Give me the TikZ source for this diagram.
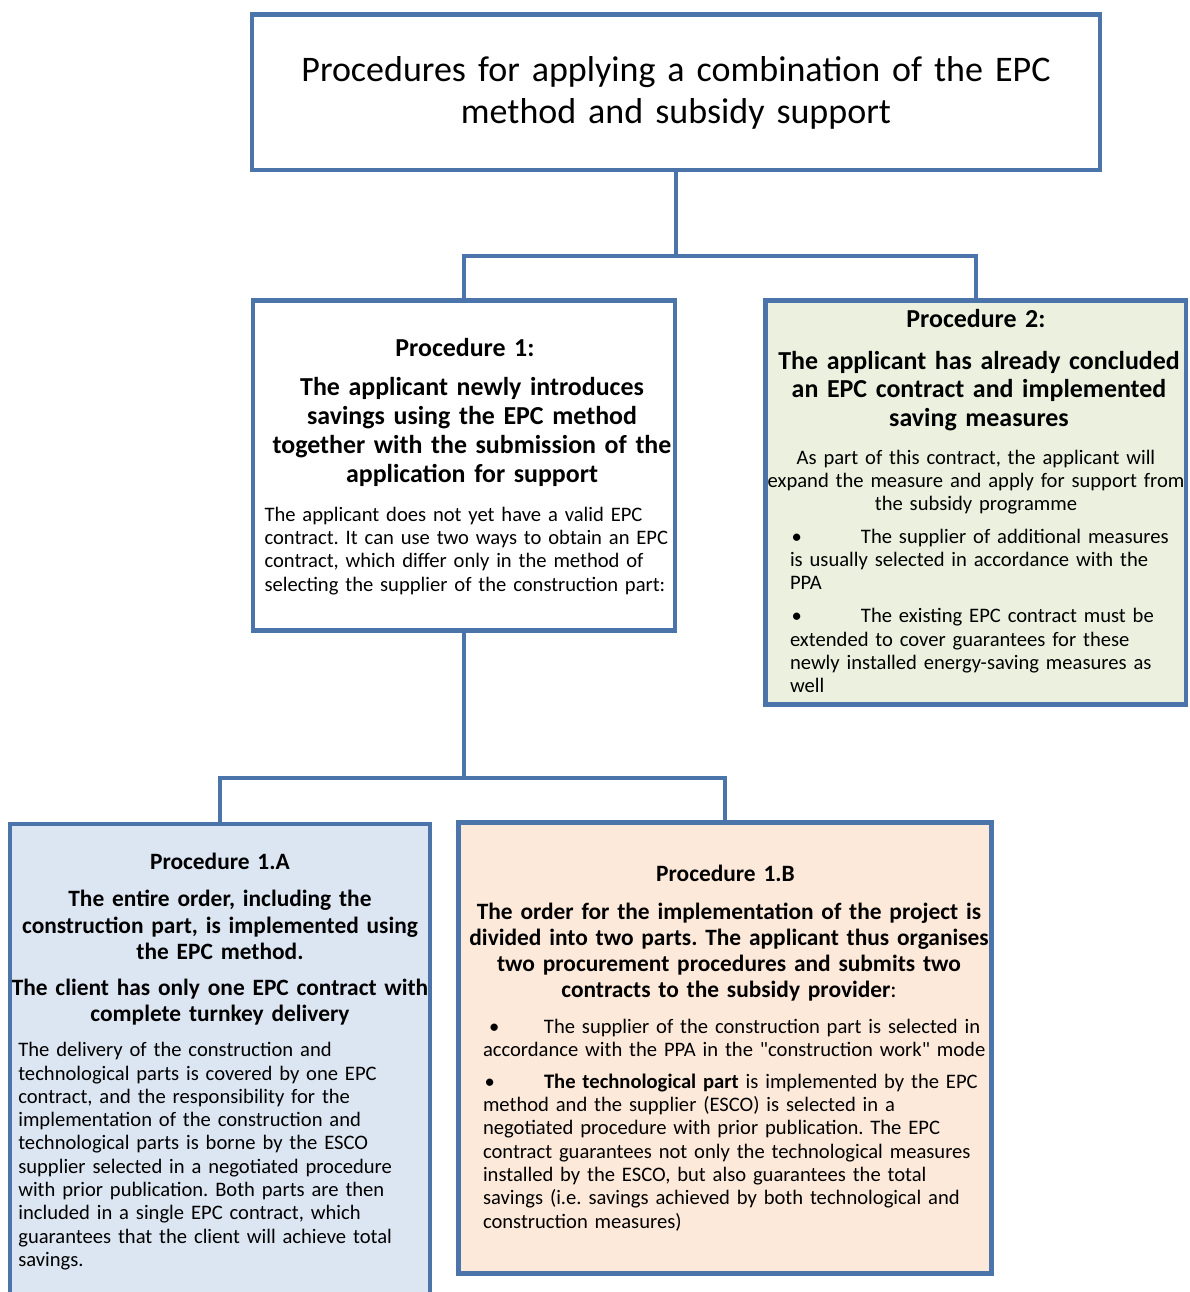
\documentclass[tikz,border=0pt]{standalone}
\usepackage{fontspec}
\setmainfont{Carlito}
\frenchspacing
\definecolor{bord}{RGB}{74,116,170}
\definecolor{fgreen}{HTML}{EBF1DE}
\definecolor{fblue}{HTML}{DCE6F2}
\definecolor{fpeach}{HTML}{FDE9D9}
\newcommand\titlef{\fontsize{36}{41.5}\selectfont}
\newcommand\procf{\fontsize{25.9}{29.3}\selectfont\bfseries}
\newcommand\procsf{\fontsize{23.4}{26.3}\selectfont\bfseries}
\newcommand\headf{\fontsize{25.9}{29.3}\selectfont\bfseries}
\newcommand\headsf{\fontsize{23.4}{26.3}\selectfont\bfseries}
\newcommand\bodyf{\fontsize{20.6}{23.3}\selectfont}
\newcommand\sqq{{\addfontfeatures{Ligatures=TeXOff}\symbol{34}}}
\begin{document}
\begin{tikzpicture}[x=1pt,y=-1pt,
  box/.style={draw=bord, line width=4.5pt, inner sep=0pt, outer sep=0pt, rectangle},
  conn/.style={draw=bord, line width=4.5pt, line join=miter},
  txt/.style={inner sep=0pt, outer sep=0pt, text width=1000pt},
  ctr/.style={txt, align=center, anchor=base},
  lft/.style={txt, align=left, anchor=base west},
]
\useasboundingbox (0,0) rectangle (1189,1292);

% boxes
\node[box, fill=white, minimum width=848pt, minimum height=155.8pt] (top) at (676,92.2) {};
\node[box, fill=white, minimum width=422pt, minimum height=330pt] (p1) at (464,465.5) {};
\node[box, fill=fgreen, minimum width=420.5pt, minimum height=404pt] (p2) at (975.75,502.5) {};
\node[box, fill=fblue, minimum width=420pt, minimum height=496pt] (p1a) at (220,1072) {};
\node[box, fill=fpeach, minimum width=532.8pt, minimum height=451.2pt] (p1b) at (725.1,1048.1) {};

% connectors
\draw[conn] (top.south) -- (top.south |- 0,256) coordinate (j1);
\draw[conn] (p1.north) |- (j1) -| (p2.north);
\draw[conn] (p1.south) -- (p1.south |- 0,778) coordinate (j2);
\draw[conn] (p1a.north) |- (j2) -| (p1b.north);

% title
\node[ctr, font=\titlef] (ttl) at (676,81.7) {Procedures for applying a combination of the EPC\\method and subsidy support};

% procedure 1
\node[ctr, font=\procf] (p1t) at (465,356) {Procedure 1:};
\node[ctr, font=\headf] (p1h) at (472,395) {The applicant newly introduces\\savings using the EPC method\\together with the submission of the\\application for support};
\node[lft, font=\bodyf] (p1x) at (264.5,521.3) {The applicant does not yet have a valid EPC\\contract. It can use two ways to obtain an EPC\\contract, which differ only in the method of\\selecting the supplier of the construction part:};

% procedure 2
\node[ctr, font=\procf] (p2t) at (976,327.3) {Procedure 2:};
\node[ctr, font=\headf, execute at begin node={\setlength{\baselineskip}{28.9pt}}] (p2h) at (979,369) {The applicant has already concluded\\an EPC contract and implemented\\saving measures};
\node[ctr, font=\bodyf] (p2x) at (976,464) {As part of this contract, the applicant will\\expand the measure and apply for support from\\the subsidy programme};
\node[lft, font=\bodyf] (p2b1) at (790,543.3) {\makebox[71pt][l]{\hspace*{1.5pt}•}The supplier of additional measures\\is usually selected in accordance with the\\PPA};
\node[lft, font=\bodyf] (p2b2) at (790,622.7) {\makebox[71pt][l]{\hspace*{1.5pt}•}The existing EPC contract must be\\extended to cover guarantees for these\\newly installed energy-saving measures as\\well};

% procedure 1.A
\node[ctr, font=\procsf] (pat) at (220,869.3) {Procedure 1.A};
\node[ctr, font=\headsf] (pah1) at (220,906.7) {The entire order, including the\\construction part, is implemented using\\the EPC method.};
\node[ctr, font=\headsf] (pah2) at (220,995) {The client has only one EPC contract with\\complete turnkey delivery};
\node[lft, font=\bodyf] (pax) at (18.3,1056.7) {The delivery of the construction and\\technological parts is covered by one EPC\\contract, and the responsibility for the\\implementation of the construction and\\technological parts is borne by the ESCO\\supplier selected in a negotiated procedure\\with prior publication. Both parts are then\\included in a single EPC contract, which\\guarantees that the client will achieve total\\savings.};

% procedure 1.B
\node[ctr, font=\procsf] (pbt) at (725.5,881.7) {Procedure 1.B};
\node[ctr, font=\headsf] (pbh) at (729,919) {The order for the implementation of the project is\\divided into two parts. The applicant thus organises\\two procurement procedures and submits two\\contracts to the subsidy provider{\mdseries :}};
\node[lft, font=\bodyf] (pbb1) at (483,1033.3) {\makebox[61pt][l]{\hspace*{6pt}•}The supplier of the construction part is selected in\\accordance with the PPA in the \sqq construction work\sqq{} mode};
\node[lft, font=\bodyf] (pbb2) at (483,1088.3) {\makebox[61pt][l]{\hspace*{1.5pt}•}\textbf{The technological part} is implemented by the EPC\\method and the supplier (ESCO) is selected in a\\negotiated procedure with prior publication. The EPC\\contract guarantees not only the technological measures\\installed by the ESCO, but also guarantees the total\\savings (i.e. savings achieved by both technological and\\construction measures)};
\end{tikzpicture}
\end{document}
